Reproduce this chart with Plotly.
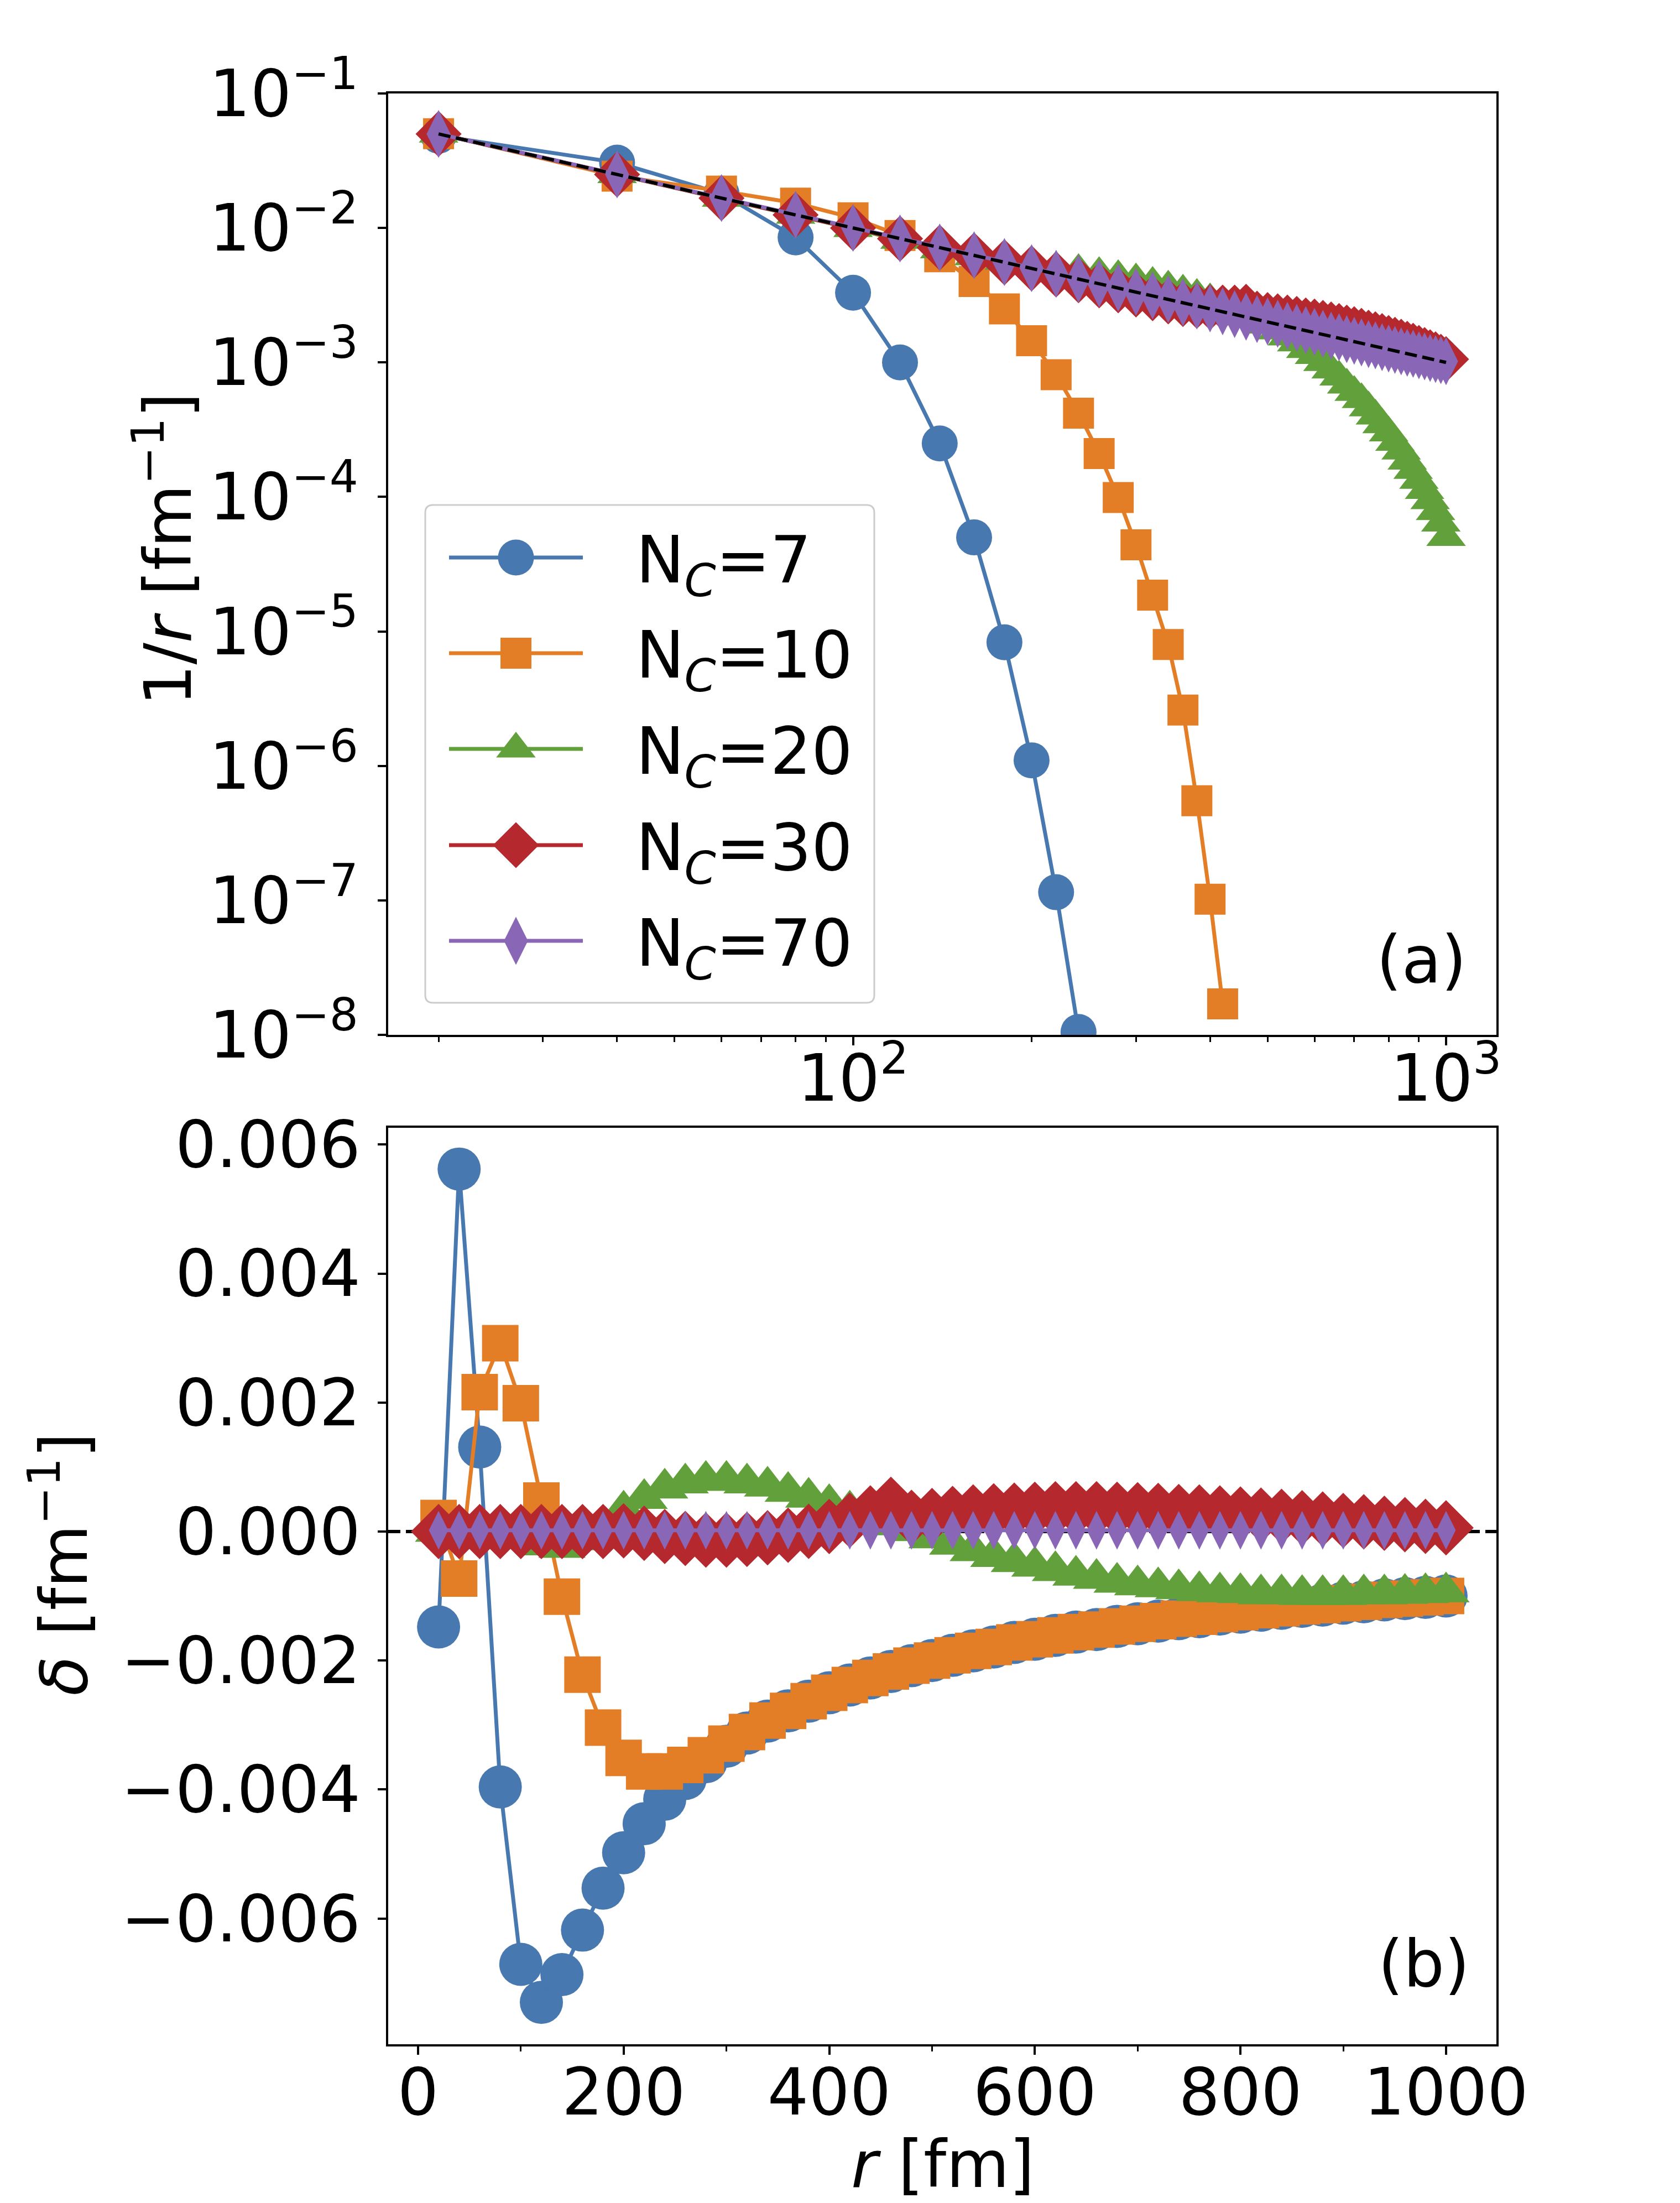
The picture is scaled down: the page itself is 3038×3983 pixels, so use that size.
import plotly.graph_objects as go

W, H = 3038, 3983

# ---------------- data ----------------
r_fm = [20, 40, 60, 80, 100, 120, 140, 160, 180, 200,
        220, 240, 260, 280, 300, 320, 340, 360, 380, 400,
        420, 440, 460, 480, 500, 520, 540, 560, 580, 600,
        620, 640, 660, 680, 700, 720, 740, 760, 780, 800,
        820, 840, 860, 880, 900, 920, 940, 960, 980, 1000]

# panel (a): approximated 1/r  [fm^-1]   (None = below the axis range)
approx_nc7 = [0.0485, 0.0306, 0.0180, 0.0085, 0.0033, 0.00100, 2.5e-4, 5.0e-5, 8.3e-6, 1.1e-6,
              1.15e-7, 1.05e-8] + [None] * 38
approx_nc10 = [0.0502, 0.0243, 0.0188, 0.0153, 0.0119, 0.0088, 0.0061, 0.0040, 0.0025, 0.00145,
               8.1e-4, 4.2e-4, 2.1e-4, 9.9e-5, 4.4e-5, 1.86e-5, 8.0e-6, 2.6e-6, 5.5e-7, 1.02e-7,
               1.7e-8] + [None] * 29
approx_nc20 = [0.0500, 0.02498, 0.01664, 0.01245, 0.00991, 0.00812, 0.00689, 0.00612, 0.00566, 0.00533,
               0.00506, 0.00484, 0.00460, 0.00436, 0.00412, 0.00388, 0.00364, 0.00340, 0.00316, 0.00293,
               0.00271, 0.00248, 0.00227, 0.00209, 0.00190, 0.00172, 0.00155, 0.00140, 0.00125, 0.00113,
               1.0e-3, 8.8e-4, 7.8e-4, 6.8e-4, 6.0e-4, 5.3e-4, 4.6e-4, 4.0e-4, 3.45e-4, 3.0e-4,
               2.55e-4, 2.2e-4, 1.85e-4, 1.58e-4, 1.33e-4, 1.12e-4, 9.4e-5, 7.8e-5, 6.4e-5, 5.0e-5]
approx_nc30 = [0.0500, 0.0250, 0.016667, 0.0125, 0.0100, 0.008333, 0.007143, 0.00625, 0.005556, 0.00501,
               0.004518, 0.00409, 0.003739, 0.003439, 0.003201, 0.003003, 0.002844, 0.002721, 0.002635, 0.002578,
               0.002556, 0.002561, 0.002595, 0.002304, 0.002249, 0.002204, 0.002156, 0.002107, 0.002055, 0.002012,
               0.001966, 0.001916, 0.001868, 0.001816, 0.001767, 0.001717, 0.001662, 0.001619, 0.00157, 0.001521,
               0.001474, 0.001426, 0.001376, 0.001331, 0.001282, 0.001238, 0.001192, 0.001148, 0.0011, 0.001057]
approx_nc70 = [0.05002, 0.02502, 0.01669, 0.01252, 0.01002, 0.00835, 0.00716, 0.00627, 0.00558, 0.00502,
               0.00457, 0.00419, 0.00387, 0.00359, 0.00335, 0.00315, 0.00296, 0.00280, 0.00265, 0.00252,
               0.00240, 0.00229, 0.00219, 0.00210, 0.00202, 0.00194, 0.00187, 0.00181, 0.00174, 0.00169,
               0.00163, 0.00158, 0.00154, 0.00149, 0.00145, 0.00141, 0.00137, 0.00134, 0.00130, 0.00127,
               0.00124, 0.00121, 0.00118, 0.00116, 0.00113, 0.00111, 0.00108, 0.00106, 0.00104, 0.00102]

# exact 1/r reference (dashed), straight line on log-log axes
ref_r = [20, 1000]
ref_inv_r = [0.05, 0.001]

# panel (b): delta  [fm^-1]
delta_nc7 = [-1.48e-3, 5.62e-3, 1.31e-3, -3.96e-3, -6.71e-3, -7.30e-3, -6.87e-3, -6.18e-3, -5.53e-3, -4.98e-3,
             -4.53e-3, -4.15e-3, -3.83e-3, -3.57e-3, -3.33e-3, -3.125e-3, -2.94e-3, -2.78e-3, -2.63e-3, -2.50e-3,
             -2.38e-3, -2.27e-3, -2.17e-3, -2.08e-3, -2.00e-3, -1.92e-3, -1.85e-3, -1.79e-3, -1.72e-3, -1.67e-3,
             -1.61e-3, -1.56e-3, -1.52e-3, -1.47e-3, -1.43e-3, -1.39e-3, -1.35e-3, -1.32e-3, -1.28e-3, -1.25e-3,
             -1.22e-3, -1.19e-3, -1.16e-3, -1.14e-3, -1.11e-3, -1.09e-3, -1.06e-3, -1.04e-3, -1.02e-3, -1.00e-3]
delta_nc10 = [0.21e-3, -0.73e-3, 2.16e-3, 2.92e-3, 1.99e-3, 0.48e-3, -1.01e-3, -2.22e-3, -3.04e-3, -3.51e-3,
              -3.72e-3, -3.72e-3, -3.62e-3, -3.47e-3, -3.29e-3, -3.11e-3, -2.93e-3, -2.78e-3, -2.63e-3, -2.50e-3,
              -2.38e-3, -2.27e-3, -2.17e-3, -2.08e-3, -2.00e-3, -1.92e-3, -1.85e-3, -1.79e-3, -1.72e-3, -1.67e-3,
              -1.61e-3, -1.56e-3, -1.52e-3, -1.47e-3, -1.43e-3, -1.39e-3, -1.35e-3, -1.32e-3, -1.28e-3, -1.25e-3,
              -1.22e-3, -1.19e-3, -1.16e-3, -1.14e-3, -1.11e-3, -1.09e-3, -1.06e-3, -1.04e-3, -1.02e-3, -1.00e-3]
delta_nc20 = [0.00e-3, -0.02e-3, -0.03e-3, -0.05e-3, -0.09e-3, -0.21e-3, -0.25e-3, -0.13e-3, 0.10e-3, 0.33e-3,
              0.51e-3, 0.67e-3, 0.75e-3, 0.79e-3, 0.79e-3, 0.75e-3, 0.70e-3, 0.62e-3, 0.53e-3, 0.43e-3,
              0.33e-3, 0.21e-3, 0.10e-3, 0.01e-3, -0.10e-3, -0.20e-3, -0.30e-3, -0.39e-3, -0.47e-3, -0.54e-3,
              -0.61e-3, -0.68e-3, -0.73e-3, -0.79e-3, -0.83e-3, -0.86e-3, -0.89e-3, -0.92e-3, -0.94e-3, -0.95e-3,
              -0.97e-3, -0.97e-3, -0.98e-3, -0.98e-3, -0.98e-3, -0.97e-3, -0.97e-3, -0.96e-3, -0.95e-3, -0.94e-3]
delta_nc30 = [0.0, 0.0, 0.0, 0.0, 0.0, 0.0, 0.0, 0.0, 0.0, 0.01e-3,
              -0.027e-3, -0.077e-3, -0.107e-3, -0.132e-3, -0.132e-3, -0.122e-3, -0.097e-3, -0.057e-3, 0.003e-3, 0.078e-3,
              0.175e-3, 0.288e-3, 0.421e-3, 0.221e-3, 0.249e-3, 0.281e-3, 0.304e-3, 0.321e-3, 0.331e-3, 0.345e-3,
              0.353e-3, 0.353e-3, 0.353e-3, 0.345e-3, 0.338e-3, 0.328e-3, 0.311e-3, 0.303e-3, 0.288e-3, 0.271e-3,
              0.254e-3, 0.236e-3, 0.213e-3, 0.195e-3, 0.171e-3, 0.151e-3, 0.128e-3, 0.106e-3, 0.080e-3, 0.057e-3]
delta_nc70 = [0.02e-3, 0.02e-3, 0.02e-3, 0.02e-3, 0.02e-3, 0.02e-3, 0.02e-3, 0.02e-3, 0.02e-3, 0.02e-3,
              0.02e-3, 0.02e-3, 0.02e-3, 0.02e-3, 0.02e-3, 0.02e-3, 0.02e-3, 0.02e-3, 0.02e-3, 0.02e-3,
              0.02e-3, 0.02e-3, 0.02e-3, 0.02e-3, 0.02e-3, 0.02e-3, 0.02e-3, 0.02e-3, 0.02e-3, 0.02e-3,
              0.02e-3, 0.02e-3, 0.02e-3, 0.02e-3, 0.02e-3, 0.02e-3, 0.02e-3, 0.02e-3, 0.02e-3, 0.02e-3,
              0.02e-3, 0.02e-3, 0.02e-3, 0.02e-3, 0.02e-3, 0.02e-3, 0.02e-3, 0.02e-3, 0.02e-3, 0.02e-3]

legend_labels = ["N<sub><i>C</i></sub>=7", "N<sub><i>C</i></sub>=10", "N<sub><i>C</i></sub>=20",
                 "N<sub><i>C</i></sub>=30", "N<sub><i>C</i></sub>=70"]

top_tickvals = [1e-8, 1e-7, 1e-6, 1e-5, 1e-4, 1e-3, 1e-2, 1e-1]
top_ticktext = ["10<sup>\u22128</sup>", "10<sup>\u22127</sup>", "10<sup>\u22126</sup>", "10<sup>\u22125</sup>",
                "10<sup>\u22124</sup>", "10<sup>\u22123</sup>", "10<sup>\u22122</sup>", "10<sup>\u22121</sup>"]
topx_tickvals = [100, 1000]
topx_ticktext = ["10<sup>2</sup>", "10<sup>3</sup>"]
topx_minor = [20, 30, 40, 50, 60, 70, 80, 90, 200, 300, 400, 500, 600, 700, 800, 900]
bot_tickvals = [-0.006, -0.004, -0.002, 0.0, 0.002, 0.004, 0.006]
bot_ticktext = ["\u22120.006", "\u22120.004", "\u22120.002", "0.000", "0.002", "0.004", "0.006"]
botx_tickvals = [0, 200, 400, 600, 800, 1000]
botx_ticktext = ["0", "200", "400", "600", "800", "1000"]
botx_minor = [100, 300, 500, 700, 900]

# ---------------- styling ----------------
FONT = "DejaVu Sans"
FS = 117
colors = ["#4878b0", "#e37e26", "#62a03b", "#b5292e", "#8966b6"]
symbols = ["circle", "square", "triangle-up", "diamond", "diamond-tall"]
size_top = [65, 56, 62, 64, 62]
size_bot = [78, 66, 74, 77, 50]
LW = 7

AX_L, AX_R = 694, 2698
TOP_T, TOP_B = 161, 1863
BOT_T, BOT_B = 2031, 3688


def px(x):
    return x / W


def py(y):
    return 1 - y / H


tops = [approx_nc7, approx_nc10, approx_nc20, approx_nc30, approx_nc70]
bots = [delta_nc7, delta_nc10, delta_nc20, delta_nc30, delta_nc70]

fig = go.Figure()

for i in range(5):
    fig.add_trace(go.Scatter(
        x=r_fm, y=tops[i], mode="lines+markers", xaxis="x", yaxis="y",
        line=dict(color=colors[i], width=LW),
        marker=dict(symbol=symbols[i], size=size_top[i], color=colors[i], line=dict(width=0)),
        showlegend=False, connectgaps=False))

fig.add_trace(go.Scatter(
    x=ref_r, y=ref_inv_r, mode="lines", xaxis="x", yaxis="y",
    line=dict(color="black", width=6, dash="22px,10px"), showlegend=False))

for i in range(5):
    fig.add_trace(go.Scatter(
        x=r_fm, y=bots[i], mode="lines+markers", xaxis="x2", yaxis="y2",
        line=dict(color=colors[i], width=LW),
        marker=dict(symbol=symbols[i], size=size_bot[i], color=colors[i], line=dict(width=0)),
        showlegend=False))

# ---------------- custom legend (overlay axes in figure pixels) ----------------
LEG_X0, LEG_X1, LEG_Y0, LEG_Y1 = 761, 1573, 905, 1805
leg_rows = [1000, 1173, 1346, 1520, 1693]
LINE_X0, LINE_X1, MARK_X, TEXT_X = 804, 1046, 925, 1140
for i in range(5):
    fig.add_trace(go.Scatter(
        x=[LINE_X0, LINE_X1], y=[leg_rows[i], leg_rows[i]], mode="lines",
        xaxis="x3", yaxis="y3", line=dict(color=colors[i], width=LW), showlegend=False))
    fig.add_trace(go.Scatter(
        x=[MARK_X], y=[leg_rows[i]], mode="markers", xaxis="x3", yaxis="y3",
        marker=dict(symbol=symbols[i], size=size_top[i], color=colors[i], line=dict(width=0)),
        showlegend=False))

rad = 14
legend_path = (f"M{LEG_X0 + rad},{LEG_Y0} L{LEG_X1 - rad},{LEG_Y0} Q{LEG_X1},{LEG_Y0} {LEG_X1},{LEG_Y0 + rad} "
               f"L{LEG_X1},{LEG_Y1 - rad} Q{LEG_X1},{LEG_Y1} {LEG_X1 - rad},{LEG_Y1} "
               f"L{LEG_X0 + rad},{LEG_Y1} Q{LEG_X0},{LEG_Y1} {LEG_X0},{LEG_Y1 - rad} "
               f"L{LEG_X0},{LEG_Y0 + rad} Q{LEG_X0},{LEG_Y0} {LEG_X0 + rad},{LEG_Y0} Z")

shapes = [
    dict(type="line", xref="x2 domain", yref="y2", x0=0, x1=1, y0=0, y1=0,
         line=dict(color="black", width=6, dash="22px,10px"), layer="below"),
    dict(type="path", xref="x3", yref="y3", path=legend_path,
         fillcolor="rgba(255,255,255,0.8)", line=dict(color="#cccccc", width=3), layer="below"),
]

tickfont = dict(family=FONT, size=FS, color="black")
axis_common = dict(showline=True, mirror=True, linecolor="black", linewidth=3.5,
                   ticks="outside", ticklen=15, tickwidth=3.5, tickcolor="black",
                   showgrid=False, zeroline=False, tickfont=tickfont, tickmode="array")

annotations = [
    dict(text="1/<i>r</i> [fm<sup>\u22121</sup>]", x=px(288), y=py(985), xref="paper", yref="paper",
         showarrow=False, textangle=-90, font=dict(family=FONT, size=FS, color="black"),
         xanchor="center", yanchor="middle"),
    dict(text="<i>\u03b4</i> [fm<sup>\u22121</sup>]", x=px(100), y=py(2820), xref="paper", yref="paper",
         showarrow=False, textangle=-90, font=dict(family=FONT, size=FS, color="black"),
         xanchor="center", yanchor="middle"),
    dict(text="<i>r</i> [fm]", x=px(1697), y=py(3905), xref="paper", yref="paper",
         showarrow=False, font=dict(family=FONT, size=FS, color="black"),
         xanchor="center", yanchor="middle"),
    dict(text="(a)", x=px(2562), y=py(1727), xref="paper", yref="paper",
         showarrow=False, font=dict(family=FONT, size=FS, color="black"),
         xanchor="center", yanchor="middle"),
    dict(text="(b)", x=px(2567), y=py(3543), xref="paper", yref="paper",
         showarrow=False, font=dict(family=FONT, size=FS, color="black"),
         xanchor="center", yanchor="middle"),
]
for i in range(5):
    annotations.append(dict(text=legend_labels[i], x=px(TEXT_X), y=py(leg_rows[i] + 12),
                            xref="paper", yref="paper", showarrow=False,
                            font=dict(family=FONT, size=FS, color="black"),
                            xanchor="left", yanchor="middle"))

fig.update_layout(
    width=W, height=H, template="none",
    margin=dict(l=0, r=0, t=0, b=0, pad=0),
    paper_bgcolor="white", plot_bgcolor="rgba(0,0,0,0)",
    showlegend=False,
    font=dict(family=FONT, size=FS, color="black"),
    xaxis=dict(type="log", domain=[px(AX_L), px(AX_R)], range=[1.2161, 3.0849], anchor="y",
               tickvals=topx_tickvals, ticktext=topx_ticktext, ticklabelstandoff=-40,
               minor=dict(tickmode="array", tickvals=topx_minor, ticks="outside", ticklen=9,
                          tickwidth=2.5, tickcolor="black", showgrid=False),
               **axis_common),
    yaxis=dict(type="log", domain=[py(TOP_B), py(TOP_T)], range=[-8, -1], anchor="x",
               tickvals=top_tickvals, ticktext=top_ticktext, ticklabelstandoff=12, **axis_common),
    xaxis2=dict(domain=[px(AX_L), px(AX_R)], range=[-29, 1049], anchor="y2",
                tickvals=botx_tickvals, ticktext=botx_ticktext, ticklabelstandoff=-32,
                minor=dict(tickmode="array", tickvals=botx_minor, ticks="outside", ticklen=9,
                           tickwidth=2.5, tickcolor="black", showgrid=False),
                **axis_common),
    yaxis2=dict(domain=[py(BOT_B), py(BOT_T)], range=[-0.00795, 0.00626], anchor="x2",
                tickvals=bot_tickvals, ticktext=bot_ticktext, ticklabelstandoff=8, **axis_common),
    xaxis3=dict(domain=[0, 1], range=[0, W], anchor="y3", visible=False, fixedrange=True),
    yaxis3=dict(domain=[0, 1], range=[H, 0], anchor="x3", visible=False, fixedrange=True),
    shapes=shapes,
    annotations=annotations,
)

fig.write_html("out.html")
